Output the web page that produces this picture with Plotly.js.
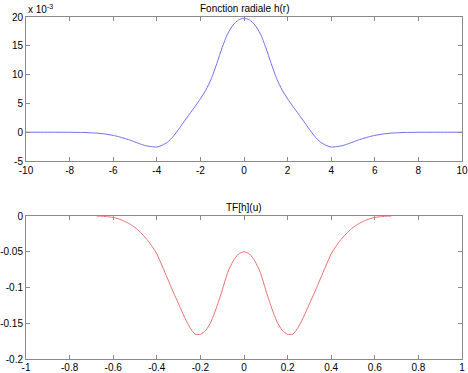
<!DOCTYPE html>
<html>
<head>
<meta charset="utf-8">
<script src="https://cdn.plot.ly/plotly-3.0.1.min.js"></script>
<style>html,body{margin:0;padding:0;background:#fff;}#chart{width:468px;height:373px;}</style>
</head>
<body>
<div id="chart"></div>
<script>
// Top panel: radial function h(r), values in units of 1e-3
const rValues = [-10,-9,-8,-7.5,-7,-6.5,-6,-5.75,-5.5,-5.25,-5,-4.75,-4.5,-4.25,-4,-3.75,-3.5,-3.25,-3,-2.75,-2.5,-2.25,-2,-1.75,-1.5,-1.25,-1,-0.75,-0.5,-0.25,
  0,0.25,0.5,0.75,1,1.25,1.5,1.75,2,2.25,2.5,2.75,3,3.25,3.5,3.75,4,4.25,4.5,4.75,5,5.25,5.5,5.75,6,6.5,7,7.5,8,9,10];
const hValuesE3 = [0,0,-0.01,-0.04,-0.1,-0.25,-0.55,-0.78,-1.05,-1.35,-1.7,-2.05,-2.35,-2.5,-2.57,-2.25,-1.7,-0.75,0.5,1.85,3.15,4.45,5.8,7.3,9.3,11.9,14.7,17.1,18.6,19.5,
  19.8,19.5,18.6,17.1,14.7,11.9,9.3,7.3,5.8,4.45,3.15,1.85,0.5,-0.75,-1.7,-2.25,-2.57,-2.5,-2.35,-2.05,-1.7,-1.35,-1.05,-0.78,-0.55,-0.25,-0.1,-0.04,-0.01,0,0];
// Bottom panel: TF[h](u)
const uValues = [-0.675,-0.65,-0.625,-0.6,-0.575,-0.55,-0.525,-0.5,-0.475,-0.45,-0.425,-0.4,-0.375,-0.35,-0.325,-0.3,-0.275,-0.25,-0.225,-0.2,-0.175,-0.15,-0.125,-0.1,-0.075,-0.05,-0.025,
  0,0.025,0.05,0.075,0.1,0.125,0.15,0.175,0.2,0.225,0.25,0.275,0.3,0.325,0.35,0.375,0.4,0.425,0.45,0.475,0.5,0.525,0.55,0.575,0.6,0.625,0.65,0.675];
const tfValues = [0,-0.0003,-0.001,-0.002,-0.004,-0.007,-0.011,-0.016,-0.023,-0.031,-0.041,-0.053,-0.070,-0.088,-0.106,-0.123,-0.140,-0.155,-0.165,-0.1655,-0.160,-0.147,-0.127,-0.104,-0.079,-0.063,-0.053,
  -0.050,-0.053,-0.063,-0.079,-0.104,-0.127,-0.147,-0.160,-0.1655,-0.165,-0.155,-0.140,-0.123,-0.106,-0.088,-0.070,-0.053,-0.041,-0.031,-0.023,-0.016,-0.011,-0.007,-0.004,-0.002,-0.001,-0.0003,0];

const topXTicks = [-10,-8,-6,-4,-2,0,2,4,6,8,10];
const topXLabels = ["-10","-8","-6","-4","-2","0","2","4","6","8","10"];
const topYTicks = [-5,0,5,10,15,20];
const topYLabels = ["-5","0","5","10","15","20"];
const botXTicks = [-1,-0.8,-0.6,-0.4,-0.2,0,0.2,0.4,0.6,0.8,1];
const botXLabels = ["-1","-0.8","-0.6","-0.4","-0.2","0","0.2","0.4","0.6","0.8","1"];
const botYTicks = [-0.2,-0.15,-0.1,-0.05,0];
const botYLabels = ["-0.2","-0.15","-0.1","-0.05","0"];

const FONT = 'Liberation Sans, Arial, sans-serif';
const axisColor = '#8a8a8a';
function ax(extra){
  return Object.assign({
    showgrid:false, zeroline:false, showline:true, linecolor:axisColor, linewidth:1,
    mirror:'ticks', ticks:'inside', ticklen:4, tickcolor:axisColor, tickwidth:1,
    ticklabeloverflow:'allow',
    tickmode:'array', tickfont:{family:FONT, size:10, color:'#000'}
  }, extra);
}

const traces = [
  {x:rValues, y:hValuesE3, type:'scatter', mode:'lines', xaxis:'x', yaxis:'y',
   line:{color:'rgb(110,110,240)', width:1, shape:'spline', smoothing:0.6}},
  {x:uValues, y:tfValues, type:'scatter', mode:'lines', xaxis:'x2', yaxis:'y2',
   line:{color:'rgb(240,110,110)', width:1, shape:'spline', smoothing:0.6}}
];

const layout = {
  width:468, height:373, showlegend:false,
  paper_bgcolor:'#fff', plot_bgcolor:'#fff',
  margin:{l:26, r:6, t:17, b:14},
  xaxis: ax({domain:[0,1], anchor:'y', range:[-10,10], tickvals:topXTicks, ticktext:topXLabels}),
  yaxis: ax({domain:[0.5789,1], anchor:'x', range:[-5,20], tickvals:topYTicks, ticktext:topYLabels}),
  xaxis2: ax({domain:[0,1], anchor:'y2', range:[-1,1], tickvals:botXTicks, ticktext:botXLabels, ticklabelstandoff:-1}),
  yaxis2: ax({domain:[0,0.418], anchor:'x2', range:[-0.2,0], tickvals:botYTicks, ticktext:botYLabels}),
  annotations:[
    {text:'Fonction radiale h(r)', xref:'paper', yref:'paper', x:0.5, y:1, yanchor:'bottom', xanchor:'center', yshift:1, showarrow:false,
     font:{family:FONT, size:10, color:'#000'}},
    {text:'TF[h](u)', xref:'paper', yref:'paper', x:0.5, y:0.418, yanchor:'bottom', xanchor:'center', yshift:1, showarrow:false,
     font:{family:FONT, size:10, color:'#000'}},
    {text:'x 10<sup>-3</sup>', xref:'paper', yref:'paper', x:0, y:1, yanchor:'bottom', xanchor:'left', yshift:0, showarrow:false,
     font:{family:FONT, size:10, color:'#000'}}
  ]
};

Plotly.newPlot('chart', traces, layout, {displayModeBar:false, staticPlot:true});
</script>
</body>
</html>
